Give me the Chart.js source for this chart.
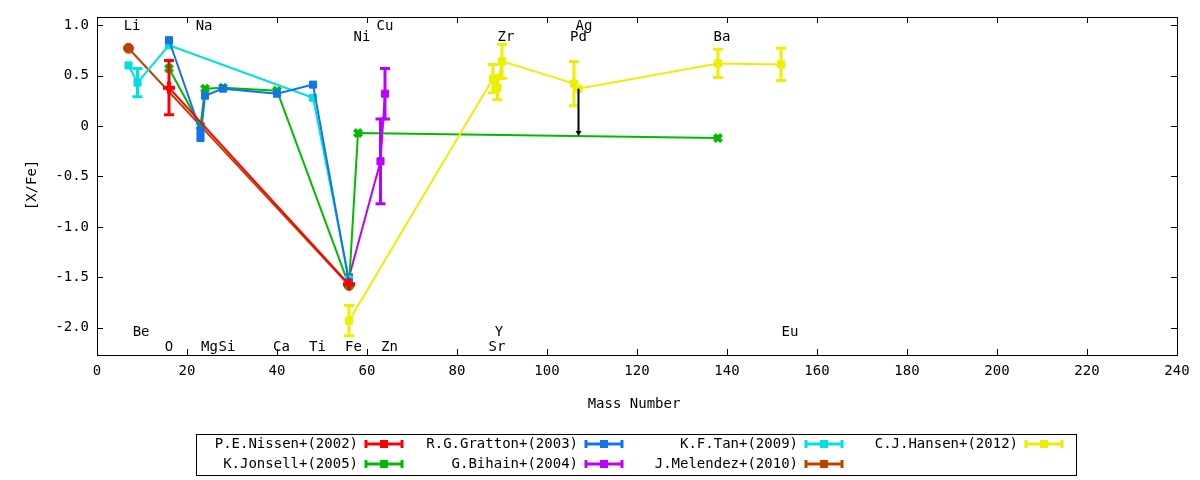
<!DOCTYPE html>
<html>
<head>
<meta charset="utf-8">
<script src="https://cdn.jsdelivr.net/npm/chart.js@4/dist/chart.umd.min.js"></script>
<style>body{margin:0;background:#fff}#wrap{width:1200px;height:480px}</style>
</head>
<body>
<div id="wrap"><canvas id="c1"></canvas></div>
<script>
var FONT = '"DejaVu Sans Mono", monospace';

var nissenX = [16, 56];
var nissenY = [0.38, -1.57];
var nissenErr = [0.27, 0];

var grattonX = [16, 23, 23, 24, 28, 40, 48, 56];
var grattonY = [0.85, -0.05, -0.12, 0.30, 0.37, 0.32, 0.41, -1.55];

var jonsellX = [16, 23, 24, 28, 40, 56, 58, 138];
var jonsellY = [0.57, 0.0, 0.37, 0.38, 0.35, -1.58, -0.07, -0.12];

var bihainX = [56, 63, 64];
var bihainY = [-1.5, -0.35, 0.32];
var bihainErr = [0, 0.42, 0.25];

var tanX = [7, 9, 16, 48, 56];
var tanY = [0.6, 0.43, 0.8, 0.28, -1.52];
var tanErr = [0, 0.14, 0, 0, 0];

var melendezX = [7, 56];
var melendezY = [0.77, -1.58];

var hansenX = [56, 88, 89, 90, 106, 107, 138, 152];
var hansenY = [-1.93, 0.47, 0.38, 0.64, 0.42, 0.37, 0.62, 0.61];
var hansenErr = [0.15, 0.14, 0.12, 0.17, 0.22, 0, 0.14, 0.16];

// Ag upper limit arrow
var agLimit = [107, 0.37, -0.1];

var elemNames = ['Li', 'Be', 'O', 'Na', 'Mg', 'Si', 'Ca', 'Ti', 'Fe', 'Ni', 'Cu', 'Zn', 'Sr', 'Y', 'Zr', 'Pd', 'Ag', 'Ba', 'Eu'];
var elemX = [7.8, 9.8, 16, 23.8, 25, 28.9, 41, 49, 57, 58.9, 64, 65, 88.9, 89.3, 90.9, 107, 108.2, 138.9, 154];
var elemY = [0.99, -2.05, -2.19, 0.99, -2.19, -2.19, -2.19, -2.19, -2.19, 0.88, 0.99, -2.19, -2.19, -2.05, 0.88, 0.88, 0.99, 0.88, -2.05];

var xTicks = [0, 20, 40, 60, 80, 100, 120, 140, 160, 180, 200, 220, 240];
var yTicks = [-2, -1.5, -1, -0.5, 0, 0.5, 1];

function pts(xs, ys, es) {
    return xs.map(function (x, i) { return { x: x, y: ys[i], e: es ? es[i] : 0 }; });
}

function ds(label, xs, ys, es, color, style, r) {
    return {
        label: label,
        data: pts(xs, ys, es),
        borderColor: color,
        backgroundColor: color,
        borderWidth: 2,
        pointStyle: style,
        pointRadius: r,
        pointBorderWidth: style === 'cross' || style === 'crossRot' ? 4 : 1,
        showLine: true,
        tension: 0
    };
}

var datasets = [
    ds('P.E.Nissen+(2002)', nissenX, nissenY, nissenErr, '#ff0000', 'cross', 6),
    ds('R.G.Gratton+(2003)', grattonX, grattonY, null, '#1474e6', 'rect', 5),
    ds('K.F.Tan+(2009)', tanX, tanY, tanErr, '#00e0e0', 'rect', 5),
    ds('C.J.Hansen+(2012)', hansenX, hansenY, hansenErr, '#eeee00', 'rect', 5),
    ds('K.Jonsell+(2005)', jonsellX, jonsellY, null, '#00bb00', 'crossRot', 5),
    ds('G.Bihain+(2004)', bihainX, bihainY, bihainErr, '#bb00ff', 'rect', 5),
    ds('J.Melendez+(2010)', melendezX, melendezY, null, '#c04000', 'circle', 5)
];

var extras = {
    id: 'extras',
    afterDatasetsDraw: function (chart) {
        var ctx = chart.ctx, xs = chart.scales.x, ys = chart.scales.y;
        ctx.save();
        chart.data.datasets.forEach(function (d) {
            ctx.strokeStyle = d.borderColor;
            ctx.lineWidth = 3;
            d.data.forEach(function (p) {
                if (!p.e) return;
                var px = xs.getPixelForValue(p.x);
                var t = ys.getPixelForValue(p.y + p.e), b = ys.getPixelForValue(p.y - p.e);
                ctx.beginPath();
                ctx.moveTo(px, t); ctx.lineTo(px, b);
                ctx.moveTo(px - 5, t); ctx.lineTo(px + 5, t);
                ctx.moveTo(px - 5, b); ctx.lineTo(px + 5, b);
                ctx.stroke();
            });
        });
        // upper limit arrow
        var ax = xs.getPixelForValue(agLimit[0]);
        var a0 = ys.getPixelForValue(agLimit[1]), a1 = ys.getPixelForValue(agLimit[2]);
        ctx.strokeStyle = '#000'; ctx.fillStyle = '#000'; ctx.lineWidth = 2;
        ctx.beginPath(); ctx.moveTo(ax, a0); ctx.lineTo(ax, a1 - 4); ctx.stroke();
        ctx.beginPath(); ctx.moveTo(ax - 3, a1 - 5); ctx.lineTo(ax + 3, a1 - 5); ctx.lineTo(ax, a1); ctx.closePath(); ctx.fill();

        // element labels
        ctx.font = '14px ' + FONT;
        ctx.fillStyle = '#000';
        ctx.textAlign = 'center'; ctx.textBaseline = 'middle';
        elemNames.forEach(function (n, i) {
            ctx.fillText(n, xs.getPixelForValue(elemX[i]), ys.getPixelForValue(elemY[i]));
        });

        // axis titles
        ctx.fillText('Mass Number', 634, 404);
        ctx.save(); ctx.translate(32, 185); ctx.rotate(-Math.PI / 2);
        ctx.fillText('[X/Fe]', 0, 0); ctx.restore();

        // legend box
        ctx.strokeStyle = '#000'; ctx.lineWidth = 1;
        ctx.strokeRect(196.5, 434.5, 880, 41);
        var order = [[0, 1, 2, 3], [4, 5, 6]];
        var textR = [358, 578, 798, 1018];
        var rowsY = [444, 464];
        ctx.textAlign = 'right';
        order.forEach(function (row, r) {
            row.forEach(function (di, c) {
                var d = chart.data.datasets[di];
                var yy = rowsY[r];
                ctx.fillStyle = '#000';
                ctx.fillText(d.label, textR[c], yy);
                var x0 = textR[c] + 8, x1 = textR[c] + 44;
                ctx.strokeStyle = d.borderColor; ctx.lineWidth = 3;
                ctx.beginPath();
                ctx.moveTo(x0, yy); ctx.lineTo(x1, yy);
                ctx.moveTo(x0, yy - 4); ctx.lineTo(x0, yy + 4);
                ctx.moveTo(x1, yy - 4); ctx.lineTo(x1, yy + 4);
                ctx.stroke();
                ctx.fillStyle = d.borderColor;
                ctx.fillRect((x0 + x1) / 2 - 4, yy - 4, 8, 8);
            });
        });
        ctx.restore();
    }
};

new Chart(document.getElementById('c1'), {
    type: 'scatter',
    data: { datasets: datasets },
    options: {
        responsive: true,
        maintainAspectRatio: false,
        animation: false,
        layout: { padding: { top: 17, right: 23, left: 0, bottom: 0 } },
        plugins: { legend: { display: false }, tooltip: { enabled: false } },
        scales: {
            x: {
                type: 'linear', min: 0, max: 240,
                afterBuildTicks: function (s) { s.ticks = xTicks.map(function (v) { return { value: v }; }); },
                afterFit: function (s) { s.height = 125; },
                grid: { display: false, drawTicks: false },
                border: { color: '#000', width: 1 },
                ticks: { color: '#000', font: { family: FONT, size: 14 }, padding: 8, maxRotation: 0 }
            },
            y: {
                type: 'linear', min: -2.27, max: 1.08,
                afterBuildTicks: function (s) { s.ticks = yTicks.map(function (v) { return { value: v }; }); },
                afterFit: function (s) { s.width = 97; },
                grid: { display: false, drawTicks: false },
                border: { color: '#000', width: 1 },
                ticks: { color: '#000', font: { family: FONT, size: 14 }, padding: 8 }
            }
        }
    },
    plugins: [extras, {
        id: 'frame',
        afterDraw: function (chart) {
            var a = chart.chartArea, ctx = chart.ctx;
            ctx.save();
            ctx.strokeStyle = '#000'; ctx.lineWidth = 1;
            ctx.strokeRect(a.left + 0.5, a.top + 0.5, a.right - a.left, a.bottom - a.top);
            var xs = chart.scales.x, ys = chart.scales.y;
            ctx.beginPath();
            xTicks.forEach(function (v) {
                var p = Math.round(xs.getPixelForValue(v)) + 0.5;
                ctx.moveTo(p, a.bottom); ctx.lineTo(p, a.bottom - 6);
                ctx.moveTo(p, a.top); ctx.lineTo(p, a.top + 6);
            });
            yTicks.forEach(function (v) {
                var p = Math.round(ys.getPixelForValue(v)) + 0.5;
                ctx.moveTo(a.left, p); ctx.lineTo(a.left + 6, p);
                ctx.moveTo(a.right, p); ctx.lineTo(a.right - 6, p);
            });
            ctx.stroke();
            ctx.restore();
        }
    }]
});
</script>
</body>
</html>
